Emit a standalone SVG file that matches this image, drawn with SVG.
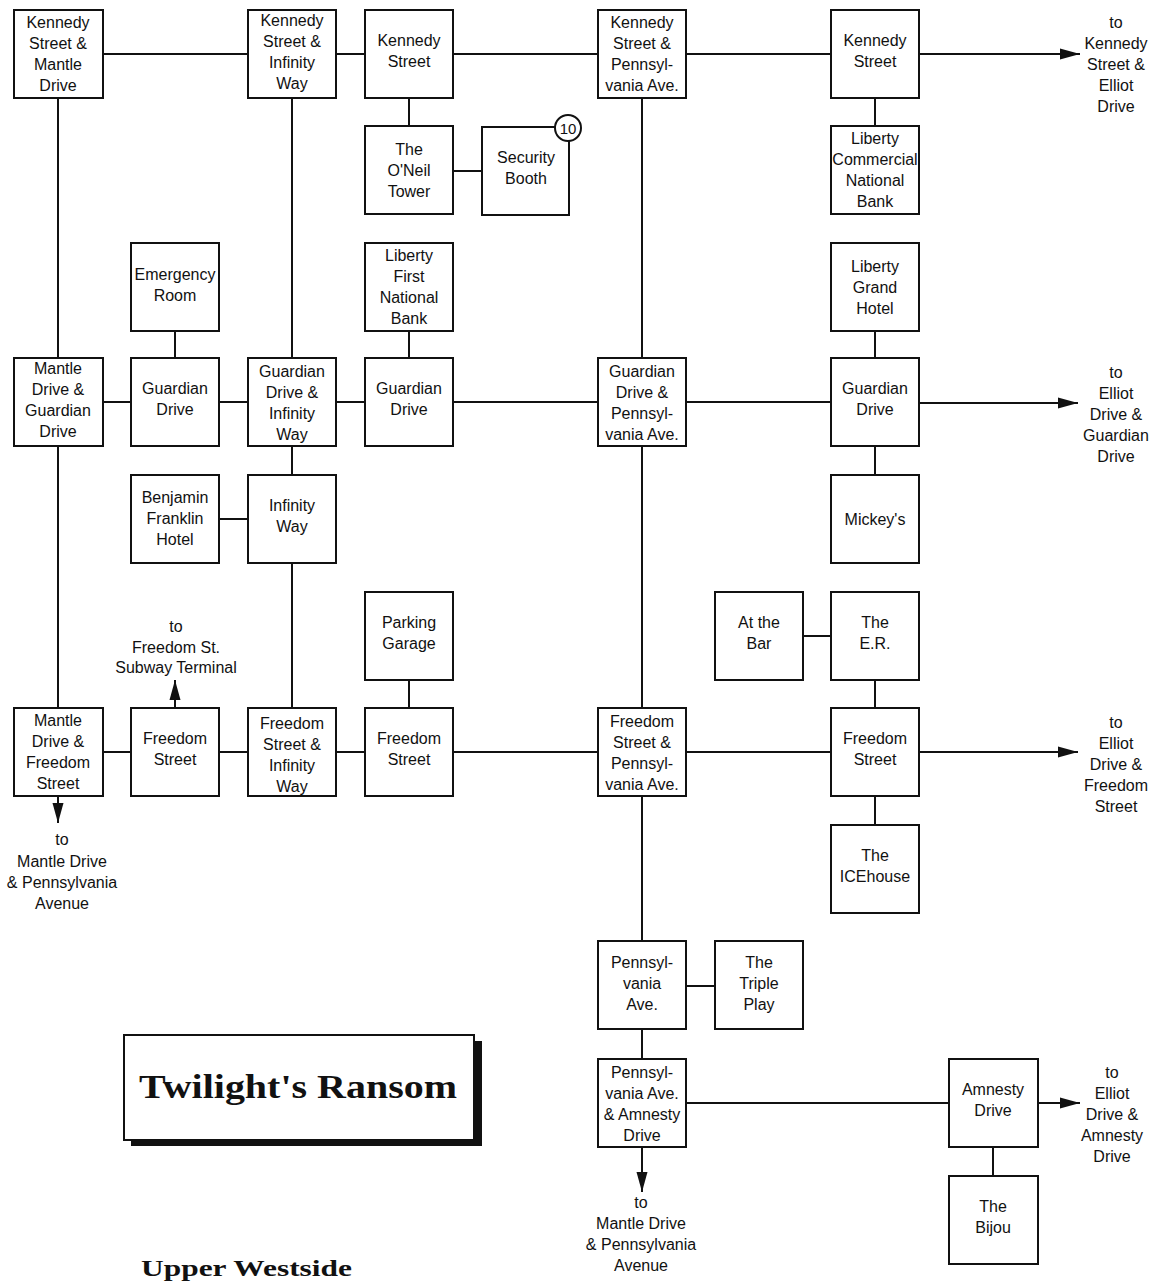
<svg xmlns="http://www.w3.org/2000/svg" width="1157" height="1282" viewBox="0 0 1157 1282">
<style>
.b{fill:#fff;stroke:#111;stroke-width:2}
.c{stroke:#111;stroke-width:2;fill:none}
.t{font-family:"Liberation Sans",Arial,sans-serif;font-size:16px;text-anchor:middle;fill:#111}
.ttl{font-family:"Liberation Serif","Times New Roman",serif;font-weight:bold;fill:#111}
</style>
<defs>
<marker id="ah" markerUnits="userSpaceOnUse" markerWidth="20" markerHeight="12" refX="20" refY="6" orient="auto">
<path d="M0,0.5 L20,6 L0,11.5 z" fill="#111"/>
</marker>
</defs>
<rect width="1157" height="1282" fill="#fff"/>

<g id="connectors">
<line class="c" x1="103" y1="54" x2="248" y2="54"/>
<line class="c" x1="336" y1="54" x2="365" y2="54"/>
<line class="c" x1="453" y1="54" x2="598" y2="54"/>
<line class="c" x1="686" y1="54" x2="831" y2="54"/>
<line class="c" x1="919" y1="54" x2="1080" y2="54" marker-end="url(#ah)"/>
<line class="c" x1="409" y1="98" x2="409" y2="126"/>
<line class="c" x1="453" y1="171" x2="482" y2="171"/>
<line class="c" x1="875" y1="98" x2="875" y2="126"/>
<line class="c" x1="58" y1="98" x2="58" y2="358"/>
<line class="c" x1="58" y1="446" x2="58" y2="708"/>
<line class="c" x1="292" y1="98" x2="292" y2="358"/>
<line class="c" x1="292" y1="446" x2="292" y2="475"/>
<line class="c" x1="292" y1="563" x2="292" y2="708"/>
<line class="c" x1="642" y1="98" x2="642" y2="358"/>
<line class="c" x1="642" y1="446" x2="642" y2="708"/>
<line class="c" x1="642" y1="796" x2="642" y2="941"/>
<line class="c" x1="642" y1="1029" x2="642" y2="1059"/>
<line class="c" x1="175" y1="331" x2="175" y2="358"/>
<line class="c" x1="409" y1="331" x2="409" y2="358"/>
<line class="c" x1="875" y1="331" x2="875" y2="358"/>
<line class="c" x1="875" y1="446" x2="875" y2="475"/>
<line class="c" x1="409" y1="680" x2="409" y2="708"/>
<line class="c" x1="875" y1="680" x2="875" y2="708"/>
<line class="c" x1="875" y1="796" x2="875" y2="825"/>
<line class="c" x1="993" y1="1147" x2="993" y2="1176"/>
<line class="c" x1="103" y1="402" x2="131" y2="402"/>
<line class="c" x1="219" y1="402" x2="248" y2="402"/>
<line class="c" x1="336" y1="402" x2="365" y2="402"/>
<line class="c" x1="453" y1="402" x2="598" y2="402"/>
<line class="c" x1="686" y1="402" x2="831" y2="402"/>
<line class="c" x1="919" y1="403" x2="1078" y2="403" marker-end="url(#ah)"/>
<line class="c" x1="219" y1="519" x2="248" y2="519"/>
<line class="c" x1="803" y1="636" x2="831" y2="636"/>
<line class="c" x1="103" y1="752" x2="131" y2="752"/>
<line class="c" x1="219" y1="752" x2="248" y2="752"/>
<line class="c" x1="336" y1="752" x2="365" y2="752"/>
<line class="c" x1="453" y1="752" x2="598" y2="752"/>
<line class="c" x1="686" y1="752" x2="831" y2="752"/>
<line class="c" x1="919" y1="752" x2="1078" y2="752" marker-end="url(#ah)"/>
<line class="c" x1="175" y1="708" x2="175" y2="680" marker-end="url(#ah)"/>
<line class="c" x1="58" y1="796" x2="58" y2="823" marker-end="url(#ah)"/>
<line class="c" x1="686" y1="986" x2="715" y2="986"/>
<line class="c" x1="686" y1="1103" x2="949" y2="1103"/>
<line class="c" x1="1038" y1="1103" x2="1080" y2="1103" marker-end="url(#ah)"/>
<line class="c" x1="642" y1="1147" x2="642" y2="1192" marker-end="url(#ah)"/>
</g>

<g id="n-kennedy-mantle"><rect class="b" x="14" y="10" width="89" height="88"/>
<text class="t"><tspan x="58" y="28">Kennedy</tspan><tspan x="58" y="49">Street &amp;</tspan><tspan x="58" y="70">Mantle</tspan><tspan x="58" y="91">Drive</tspan></text></g>
<g id="n-kennedy-infinity"><rect class="b" x="248" y="10" width="88" height="88"/>
<text class="t"><tspan x="292" y="26">Kennedy</tspan><tspan x="292" y="47">Street &amp;</tspan><tspan x="292" y="68">Infinity</tspan><tspan x="292" y="89">Way</tspan></text></g>
<g id="n-kennedy-1"><rect class="b" x="365" y="10" width="88" height="88"/>
<text class="t"><tspan x="409" y="46">Kennedy</tspan><tspan x="409" y="67">Street</tspan></text></g>
<g id="n-kennedy-penn"><rect class="b" x="598" y="10" width="88" height="88"/>
<text class="t"><tspan x="642" y="28">Kennedy</tspan><tspan x="642" y="49">Street &amp;</tspan><tspan x="642" y="70">Pennsyl-</tspan><tspan x="642" y="91">vania Ave.</tspan></text></g>
<g id="n-kennedy-2"><rect class="b" x="831" y="10" width="88" height="88"/>
<text class="t"><tspan x="875" y="46">Kennedy</tspan><tspan x="875" y="67">Street</tspan></text></g>
<text class="t"><tspan x="1116" y="28">to</tspan><tspan x="1116" y="49">Kennedy</tspan><tspan x="1116" y="70">Street &amp;</tspan><tspan x="1116" y="91">Elliot</tspan><tspan x="1116" y="112">Drive</tspan></text>

<g id="n-oneil"><rect class="b" x="365" y="126" width="88" height="88"/>
<text class="t"><tspan x="409" y="155">The</tspan><tspan x="409" y="176">O'Neil</tspan><tspan x="409" y="197">Tower</tspan></text></g>
<g id="n-security"><rect class="b" x="482" y="127" width="87" height="88"/>
<text class="t"><tspan x="526" y="163">Security</tspan><tspan x="526" y="184">Booth</tspan></text>
<circle class="b" cx="568" cy="128" r="13"/>
<text class="t" x="568" y="133.5" style="font-size:15px">10</text></g>
<g id="n-liberty-commercial"><rect class="b" x="831" y="126" width="88" height="88"/>
<text class="t"><tspan x="875" y="144">Liberty</tspan><tspan x="875" y="165">Commercial</tspan><tspan x="875" y="186">National</tspan><tspan x="875" y="207">Bank</tspan></text></g>

<g id="n-emergency"><rect class="b" x="131" y="243" width="88" height="88"/>
<text class="t"><tspan x="175" y="280">Emergency</tspan><tspan x="175" y="301">Room</tspan></text></g>
<g id="n-liberty-first"><rect class="b" x="365" y="243" width="88" height="88"/>
<text class="t"><tspan x="409" y="261">Liberty</tspan><tspan x="409" y="282">First</tspan><tspan x="409" y="303">National</tspan><tspan x="409" y="324">Bank</tspan></text></g>
<g id="n-liberty-grand"><rect class="b" x="831" y="243" width="88" height="88"/>
<text class="t"><tspan x="875" y="272">Liberty</tspan><tspan x="875" y="293">Grand</tspan><tspan x="875" y="314">Hotel</tspan></text></g>

<g id="n-mantle-guardian"><rect class="b" x="14" y="358" width="89" height="88"/>
<text class="t"><tspan x="58" y="374">Mantle</tspan><tspan x="58" y="395">Drive &amp;</tspan><tspan x="58" y="416">Guardian</tspan><tspan x="58" y="437">Drive</tspan></text></g>
<g id="n-guardian-1"><rect class="b" x="131" y="358" width="88" height="88"/>
<text class="t"><tspan x="175" y="394">Guardian</tspan><tspan x="175" y="415">Drive</tspan></text></g>
<g id="n-guardian-infinity"><rect class="b" x="248" y="358" width="88" height="88"/>
<text class="t"><tspan x="292" y="377">Guardian</tspan><tspan x="292" y="398">Drive &amp;</tspan><tspan x="292" y="419">Infinity</tspan><tspan x="292" y="440">Way</tspan></text></g>
<g id="n-guardian-2"><rect class="b" x="365" y="358" width="88" height="88"/>
<text class="t"><tspan x="409" y="394">Guardian</tspan><tspan x="409" y="415">Drive</tspan></text></g>
<g id="n-guardian-penn"><rect class="b" x="598" y="358" width="88" height="88"/>
<text class="t"><tspan x="642" y="377">Guardian</tspan><tspan x="642" y="398">Drive &amp;</tspan><tspan x="642" y="419">Pennsyl-</tspan><tspan x="642" y="440">vania Ave.</tspan></text></g>
<g id="n-guardian-3"><rect class="b" x="831" y="358" width="88" height="88"/>
<text class="t"><tspan x="875" y="394">Guardian</tspan><tspan x="875" y="415">Drive</tspan></text></g>
<text class="t"><tspan x="1116" y="378">to</tspan><tspan x="1116" y="399">Elliot</tspan><tspan x="1116" y="420">Drive &amp;</tspan><tspan x="1116" y="441">Guardian</tspan><tspan x="1116" y="462">Drive</tspan></text>

<g id="n-franklin"><rect class="b" x="131" y="475" width="88" height="88"/>
<text class="t"><tspan x="175" y="503">Benjamin</tspan><tspan x="175" y="524">Franklin</tspan><tspan x="175" y="545">Hotel</tspan></text></g>
<g id="n-infinity"><rect class="b" x="248" y="475" width="88" height="88"/>
<text class="t"><tspan x="292" y="511">Infinity</tspan><tspan x="292" y="532">Way</tspan></text></g>
<g id="n-mickeys"><rect class="b" x="831" y="475" width="88" height="88"/>
<text class="t" x="875" y="525">Mickey's</text></g>

<g id="n-parking"><rect class="b" x="365" y="592" width="88" height="88"/>
<text class="t"><tspan x="409" y="628">Parking</tspan><tspan x="409" y="649">Garage</tspan></text></g>
<g id="n-atthebar"><rect class="b" x="715" y="592" width="88" height="88"/>
<text class="t"><tspan x="759" y="628">At the</tspan><tspan x="759" y="649">Bar</tspan></text></g>
<g id="n-er"><rect class="b" x="831" y="592" width="88" height="88"/>
<text class="t"><tspan x="875" y="628">The</tspan><tspan x="875" y="649">E.R.</tspan></text></g>
<text class="t"><tspan x="176" y="632">to</tspan><tspan x="176" y="653">Freedom St.</tspan><tspan x="176" y="673">Subway Terminal</tspan></text>

<g id="n-mantle-freedom"><rect class="b" x="14" y="708" width="89" height="88"/>
<text class="t"><tspan x="58" y="726">Mantle</tspan><tspan x="58" y="747">Drive &amp;</tspan><tspan x="58" y="768">Freedom</tspan><tspan x="58" y="789">Street</tspan></text></g>
<g id="n-freedom-1"><rect class="b" x="131" y="708" width="88" height="88"/>
<text class="t"><tspan x="175" y="744">Freedom</tspan><tspan x="175" y="765">Street</tspan></text></g>
<g id="n-freedom-infinity"><rect class="b" x="248" y="708" width="88" height="88"/>
<text class="t"><tspan x="292" y="729">Freedom</tspan><tspan x="292" y="750">Street &amp;</tspan><tspan x="292" y="771">Infinity</tspan><tspan x="292" y="792">Way</tspan></text></g>
<g id="n-freedom-2"><rect class="b" x="365" y="708" width="88" height="88"/>
<text class="t"><tspan x="409" y="744">Freedom</tspan><tspan x="409" y="765">Street</tspan></text></g>
<g id="n-freedom-penn"><rect class="b" x="598" y="708" width="88" height="88"/>
<text class="t"><tspan x="642" y="727">Freedom</tspan><tspan x="642" y="748">Street &amp;</tspan><tspan x="642" y="769">Pennsyl-</tspan><tspan x="642" y="790">vania Ave.</tspan></text></g>
<g id="n-freedom-3"><rect class="b" x="831" y="708" width="88" height="88"/>
<text class="t"><tspan x="875" y="744">Freedom</tspan><tspan x="875" y="765">Street</tspan></text></g>
<text class="t"><tspan x="1116" y="728">to</tspan><tspan x="1116" y="749">Elliot</tspan><tspan x="1116" y="770">Drive &amp;</tspan><tspan x="1116" y="791">Freedom</tspan><tspan x="1116" y="812">Street</tspan></text>
<text class="t"><tspan x="62" y="845">to</tspan><tspan x="62" y="867">Mantle Drive</tspan><tspan x="62" y="888">&amp; Pennsylvania</tspan><tspan x="62" y="909">Avenue</tspan></text>

<g id="n-icehouse"><rect class="b" x="831" y="825" width="88" height="88"/>
<text class="t"><tspan x="875" y="861">The</tspan><tspan x="875" y="882">ICEhouse</tspan></text></g>

<g id="n-penn"><rect class="b" x="598" y="941" width="88" height="88"/>
<text class="t"><tspan x="642" y="968">Pennsyl-</tspan><tspan x="642" y="989">vania</tspan><tspan x="642" y="1010">Ave.</tspan></text></g>
<g id="n-tripleplay"><rect class="b" x="715" y="941" width="88" height="88"/>
<text class="t"><tspan x="759" y="968">The</tspan><tspan x="759" y="989">Triple</tspan><tspan x="759" y="1010">Play</tspan></text></g>

<g id="n-penn-amnesty"><rect class="b" x="598" y="1059" width="88" height="88"/>
<text class="t"><tspan x="642" y="1078">Pennsyl-</tspan><tspan x="642" y="1099">vania Ave.</tspan><tspan x="642" y="1120">&amp; Amnesty</tspan><tspan x="642" y="1141">Drive</tspan></text></g>
<g id="n-amnesty"><rect class="b" x="949" y="1059" width="89" height="88"/>
<text class="t"><tspan x="993" y="1095">Amnesty</tspan><tspan x="993" y="1116">Drive</tspan></text></g>
<g id="n-bijou"><rect class="b" x="949" y="1176" width="89" height="88"/>
<text class="t"><tspan x="993" y="1212">The</tspan><tspan x="993" y="1233">Bijou</tspan></text></g>
<text class="t"><tspan x="1112" y="1078">to</tspan><tspan x="1112" y="1099">Elliot</tspan><tspan x="1112" y="1120">Drive &amp;</tspan><tspan x="1112" y="1141">Amnesty</tspan><tspan x="1112" y="1162">Drive</tspan></text>
<text class="t"><tspan x="641" y="1208">to</tspan><tspan x="641" y="1229">Mantle Drive</tspan><tspan x="641" y="1250">&amp; Pennsylvania</tspan><tspan x="641" y="1271">Avenue</tspan></text>

<g id="title">
<rect x="131" y="1041" width="351" height="105" fill="#111"/>
<rect x="124" y="1035" width="350" height="105" fill="#fff" stroke="#111" stroke-width="2"/>
<text class="ttl" x="139" y="1098" style="font-size:33px" textLength="318" lengthAdjust="spacingAndGlyphs">Twilight's Ransom</text>
</g>
<text class="ttl" x="141" y="1276" style="font-size:23px" textLength="211" lengthAdjust="spacingAndGlyphs">Upper Westside</text>
</svg>
